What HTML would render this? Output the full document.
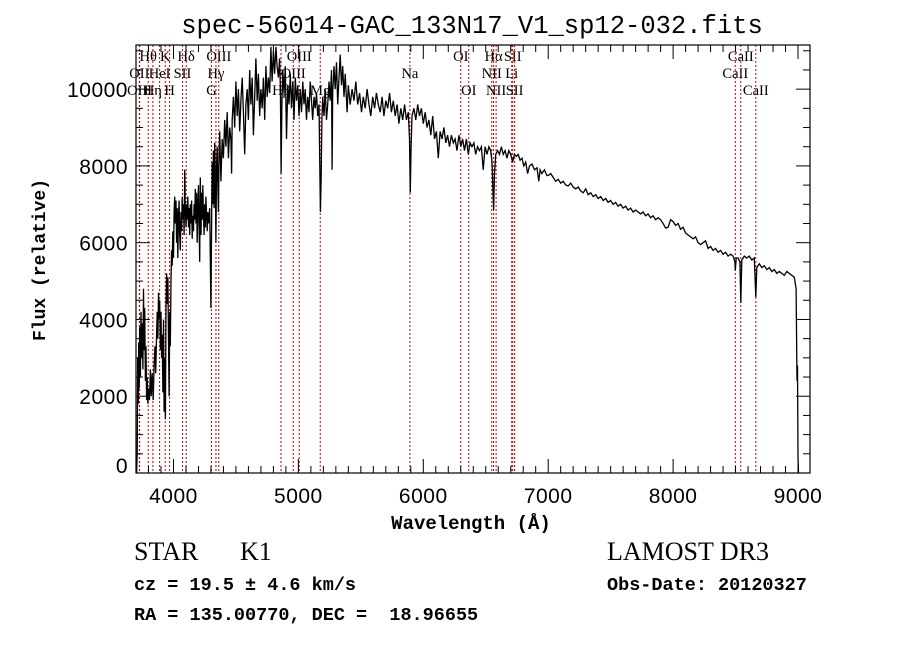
<!DOCTYPE html>
<html><head><meta charset="utf-8">
<style>
html,body{margin:0;padding:0;background:#fff;}
svg{display:block;}
.tk{font-family:"Liberation Sans",sans-serif;font-size:21px;letter-spacing:0.5px;fill:#000;}
.ln{font-family:"Liberation Serif",serif;font-size:14.5px;fill:#000;}
.sr{font-family:"Liberation Serif",serif;fill:#000;}
.mn{font-family:"Liberation Mono",monospace;fill:#000;}
</style></head>
<body>
<svg id="chart" width="900" height="649" viewBox="0 0 900 649" xmlns="http://www.w3.org/2000/svg">
<rect width="900" height="649" fill="#fff"/>
<text x="472" y="33" text-anchor="middle" class="mn" font-size="25.5">spec-56014-GAC_133N17_V1_sp12-032.fits</text>
<text x="471" y="529" text-anchor="middle" class="mn" font-size="19" font-weight="bold">Wavelength (Å)</text>
<text x="0" y="0" transform="translate(45,260) rotate(-90)" text-anchor="middle" class="mn" font-size="18" font-weight="bold">Flux (relative)</text>
<g id="lines"></g>
<g id="spec"></g>
<g id="axes"></g>
<text x="134" y="560" class="sr" font-size="26">STAR</text>
<text x="240" y="560" class="sr" font-size="26">K1</text>
<text x="607" y="560" class="sr" font-size="26">LAMOST DR3</text>
<text x="134" y="590" class="mn" font-size="18.5" font-weight="bold">cz = 19.5 ± 4.6 km/s</text>
<text x="607" y="590" class="mn" font-size="18.5" font-weight="bold">Obs-Date: 20120327</text>
<text x="134" y="620" class="mn" font-size="18.5" font-weight="bold" xml:space="preserve">RA = 135.00770, DEC =  18.96655</text>
</svg>
<script>
var waves=[3705,3710,3714,3718,3722,3726,3730,3735,3740,3745,3750,3755,3760,3765,3770,3775,3780,3785,3790,3795,3800,3808,3815,3822,3830,3838,3845,3852,3858,3865,3870,3875,3880,3885,3890,3895,3900,3905,3910,3915,3920,3925,3930,3935,3940,3945,3950,3955,3960,3965,3970,3975,3980,3985,3990,3995,4000,4005,4010,4015,4020,4025,4030,4035,4040,4045,4050,4055,4060,4065,4070,4075,4080,4085,4090,4095,4100,4105,4110,4115,4120,4125,4130,4135,4140,4145,4150,4155,4160,4165,4170,4175,4180,4185,4190,4195,4200,4205,4210,4215,4220,4225,4230,4235,4240,4245,4250,4255,4260,4265,4270,4275,4280,4290,4295,4300,4305,4310,4315,4320,4325,4330,4335,4340,4345,4350,4355,4360,4365,4370,4380,4390,4400,4410,4420,4430,4440,4450,4460,4465,4470,4480,4490,4500,4510,4520,4530,4540,4550,4560,4570,4580,4590,4600,4610,4620,4630,4640,4650,4660,4670,4680,4690,4700,4710,4720,4730,4740,4750,4760,4770,4780,4790,4800,4810,4820,4830,4840,4850,4856,4862,4868,4875,4885,4895,4905,4915,4925,4935,4945,4955,4965,4975,4985,4995,5005,5015,5025,5035,5045,5055,5065,5075,5085,5095,5105,5115,5125,5135,5145,5155,5165,5170,5176,5182,5188,5195,5205,5215,5225,5235,5245,5255,5265,5270,5275,5285,5295,5305,5315,5325,5335,5345,5355,5365,5375,5390,5400,5415,5430,5445,5460,5475,5490,5505,5520,5535,5550,5565,5580,5595,5610,5625,5640,5655,5670,5685,5700,5715,5730,5745,5760,5775,5790,5805,5820,5835,5850,5865,5880,5890,5896,5902,5910,5925,5940,5955,5970,5985,6000,6015,6030,6045,6060,6075,6090,6105,6120,6135,6150,6165,6180,6195,6210,6225,6240,6255,6270,6285,6300,6315,6330,6345,6360,6375,6390,6405,6420,6435,6450,6465,6480,6495,6510,6525,6540,6550,6563,6570,6580,6595,6610,6625,6640,6655,6670,6685,6700,6715,6730,6745,6760,6775,6790,6805,6820,6835,6850,6870,6890,6910,6925,6935,6950,6970,6990,7000,7020,7040,7060,7080,7100,7120,7140,7160,7180,7200,7220,7240,7260,7280,7300,7320,7340,7360,7380,7400,7420,7440,7460,7480,7500,7520,7540,7560,7580,7600,7620,7640,7660,7680,7700,7720,7740,7760,7780,7800,7820,7840,7860,7880,7900,7920,7940,7960,7980,8000,8020,8040,8060,8080,8100,8120,8140,8160,8180,8200,8220,8240,8260,8280,8300,8320,8340,8360,8380,8400,8420,8440,8460,8480,8495,8498,8505,8520,8535,8542,8550,8570,8590,8610,8630,8650,8662,8670,8690,8710,8730,8750,8770,8790,8810,8830,8850,8870,8890,8910,8930,8950,8970,8985,8992,8996,9000,9004];
var fluxes=[0,500,3000,1800,3400,2200,3800,2500,4200,3000,3900,2700,4800,3200,4300,2400,3300,1900,2500,1800,2200,1900,2700,2000,2600,1900,2800,3300,2600,3600,4200,3500,4700,4000,4500,3200,4200,3000,3600,2100,4000,1600,3000,1400,4300,5200,4400,5100,3500,2000,4200,3300,5000,5800,5400,6300,5600,6800,7200,6500,7100,6000,6900,5600,6700,7100,6200,5800,6800,6300,7200,6600,7000,6200,7900,6900,6400,7000,6600,7200,6400,6900,6200,7000,6500,7100,6100,6700,6300,7000,6600,7400,6500,7300,6000,6900,7500,6400,5500,7700,6200,7300,6600,7500,6800,6200,7000,6400,7200,6700,6300,6800,6500,6900,5600,4300,6500,8100,7000,8400,6900,8600,7800,6000,8000,8500,7600,6800,8400,8900,7600,8700,8200,9200,8500,9400,8200,9000,8700,7800,9200,9800,9000,10200,9300,10000,8900,9700,10300,9400,8300,9600,10000,9200,10500,9600,10300,8800,9800,10800,9700,10400,9300,10000,9500,10300,9200,10600,9800,10300,9900,11100,10200,11000,10400,11100,10600,10300,10800,10000,7800,9600,10500,9900,10600,8700,10100,9600,10400,9500,10200,9200,10300,9700,10100,9300,10000,9400,10200,9600,10000,9200,9800,9400,10200,9700,9200,9800,9500,9900,9300,9600,8400,6800,7600,9200,9800,9300,10000,9200,9600,10200,9700,10500,7900,9900,10600,10000,10700,9600,10300,10900,10100,10600,9800,10400,9400,10100,9600,10000,9700,10200,9600,9900,9400,9800,9500,10000,9600,9300,9800,9500,9900,9600,9400,9800,9300,9700,9500,9900,9400,9700,9300,9600,9100,9500,9200,9600,9200,9400,8700,7300,8400,9300,9500,9200,9600,9300,9500,9100,9400,9000,9200,8800,9300,8700,8900,8200,8900,8700,9000,8600,8800,8500,8800,8600,8700,8400,8800,8500,8700,8400,8700,8300,8600,8500,8600,8300,8500,8400,8500,7900,8500,8300,8500,8400,8100,6850,7800,8300,8400,8300,8500,8300,8400,8200,8400,8300,8100,8300,8250,8300,8150,8200,8000,8100,7800,8000,8050,7900,7950,7600,7900,7800,7900,7750,7750,7800,7700,7600,7650,7550,7600,7500,7480,7550,7450,7400,7450,7350,7300,7400,7250,7300,7200,7250,7150,7200,7100,7150,7050,7100,7000,7050,6950,7000,6900,6950,6850,6900,6800,6850,6800,6750,6800,6700,6750,6650,6700,6600,6650,6600,6500,6380,6400,6600,6550,6450,6500,6350,6400,6250,6200,6150,6100,6150,6000,5950,6000,6050,5850,5900,5800,5850,5750,5800,5700,5750,5650,5700,5650,5500,5280,5600,5600,5500,4430,5550,5650,5600,5650,5550,5600,4580,5350,5450,5350,5400,5300,5350,5250,5300,5200,5250,5200,5150,5250,5200,5150,5100,4800,2400,2800,400,0];
var xTicks=[4000,5000,6000,7000,8000,9000];
var yTicks=[0,2000,4000,6000,8000,10000];
var lineWaves=[3727,3798,3729,3835,3889,3934,3969,4072,4102,4304,4340,4363,4861,4959,5007,5175,5893,6300,6364,6548,6563,6583,6708,6716,6731,8498,8542,8662];
var lineNames=["OII","Hθ","OIII","Hη","HeI","K","H","SII","Hδ","G","Hγ","OIII","Hβ","OIII","OIII","Mg","Na","OI","OI","NII","Hα","NII","Li","SII","SII","CaII","CaII","CaII"];
var lineRows=[1,0,2,2,1,0,2,1,0,2,1,0,2,1,0,2,1,0,2,1,0,2,1,0,2,1,0,2];

var L=136,R=810,T=45,B=473,XMIN=3700,XMAX=9096,YMIN=0,YMAX=11150;
function xs(w){return L+(w-XMIN)/(XMAX-XMIN)*(R-L);}
function ys(f){return B-(f-YMIN)/(YMAX-YMIN)*(B-T);}
var NS="http://www.w3.org/2000/svg";
function mk(tag,attrs,parent){var e=document.createElementNS(NS,tag);for(var k in attrs)e.setAttribute(k,attrs[k]);parent.appendChild(e);return e;}

var gl=document.getElementById('lines');
for(var i=0;i<lineWaves.length;i++){
  var x=xs(lineWaves[i]);
  var ml=mk('line',{x1:x,x2:x,y1:T,y2:B,stroke:'#c00000','stroke-width':1,'stroke-dasharray':'2,2'},gl);
  
  
  var lt=mk('text',{x:x,y:61+lineRows[i]*17,'text-anchor':'middle','class':'ln'},gl);
  lt.textContent=lineNames[i];
  
  
}

var gs=document.getElementById('spec');
var d='';
for(var j=0;j<waves.length;j++){var fx=Math.min(Math.max(fluxes[j],YMIN),YMAX);d+=(j?'L':'M')+xs(waves[j]).toFixed(1)+' '+ys(fx).toFixed(1);}
var sp=mk('path',{d:d,fill:'none',stroke:'#000','stroke-width':1.3,'stroke-linejoin':'miter'},gs);



var ga=document.getElementById('axes');
var fr=mk('rect',{x:L,y:T,width:R-L,height:B-T,fill:'none',stroke:'#000','stroke-width':1.2},ga);


for(var w=3700;w<=9000;w+=100){
  var major=(w%1000===0);var len=major?14:7;var x=xs(w);
  mk('line',{x1:x,x2:x,y1:B,y2:B-len,stroke:'#000'},ga);
  mk('line',{x1:x,x2:x,y1:T,y2:T+len,stroke:'#000'},ga);
}
for(var f=0;f<=11000;f+=500){
  var major=(f%2000===0);var len=major?14:7;var y=ys(f);
  mk('line',{x1:L,x2:L+len,y1:y,y2:y,stroke:'#000'},ga);
  mk('line',{x1:R,x2:R-len,y1:y,y2:y,stroke:'#000'},ga);
}
for(var a=0;a<xTicks.length;a++){
  var t=mk('text',{x:xs(xTicks[a]),y:503,'text-anchor':'middle','class':'tk'},ga);
  t.textContent=xTicks[a];
  
  
}
for(var b=0;b<yTicks.length;b++){
  var t2=mk('text',{x:128,y:Math.min(ys(yTicks[b])+8,473),'text-anchor':'end','class':'tk'},ga);
  t2.textContent=yTicks[b];
  
  
}
</script>
</body></html>
